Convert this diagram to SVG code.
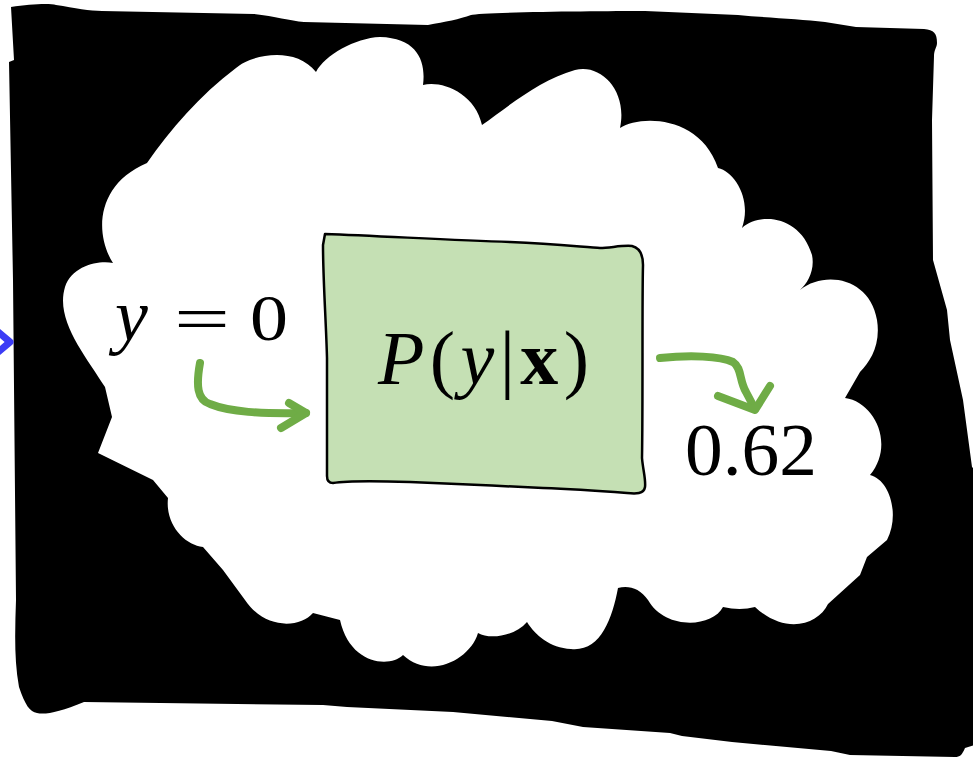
<svg xmlns="http://www.w3.org/2000/svg" width="973" height="759" viewBox="0 0 973 759">
  <defs>
    <style>
      .ink { fill: #000000; stroke: none; }
      .cloud { fill: #ffffff; stroke: none; }
      .box { fill: #c5e0b4; stroke: #000000; stroke-width: 2.5; stroke-linejoin: round; }
      .math { font-family: "Liberation Serif", "DejaVu Serif", serif; fill: #000000; font-weight: normal; }
      .it { font-style: italic; }
      .bf { font-weight: bold; }
      .green { fill: none; stroke: #6fac46; stroke-width: 8; stroke-linecap: round; stroke-linejoin: round; }
      .blue { fill: none; stroke: #3c3cf5; stroke-width: 7; stroke-linecap: butt; stroke-linejoin: round; }
    </style>
  </defs>
  <rect x="0" y="0" width="973" height="759" fill="#ffffff"/>

  <!-- black scribbled background -->
  <path class="ink" d="M11,7 C30,4 50,3 56,5 C75,8 90,11 102,11 L254,14 C275,16 290,21 304,22 L428,25 C445,22 460,19 471,15 C480,12 600,11 645,11 L738,15 C770,18 800,19 825,22 L856,27 L924,29 C934,30 937,33 937,43 C937,47 934,50 934,56 L932,120 L933,260 L947,310 L950,340 L963,400 L972,467 L975,470 L975,745 L965,748 C962,755 960,757 955,757 L850,755 L831,751 L732,742 L682,736 L670,733 L583,727 L552,721 L453,712 L347,707 L323,705 L84,702 C60,712 45,715 37,713 C30,712 25,705 19,687 C14,660 15,630 16,600 L13,280 L9,62 L14,60 Z"/>

  <!-- white cloud -->
  <path class="cloud" d="M147,163 C170,130 200,95 236,68 C250,55 295,45 316,72 C325,55 355,38 380,37 C418,38 426,62 423,85 C440,80 475,92 482,125 C510,105 540,80 575,70 C600,63 628,90 620,128 C640,115 700,115 718,168 C735,172 752,200 742,228 C760,212 800,215 812,255 C815,270 808,283 800,290 C825,270 870,278 877,320 C881,345 870,362 860,372 L845,398 C875,402 895,445 870,475 C890,480 900,515 887,540 L867,557 L860,575 L828,604 C818,625 785,635 755,607 Q740,611 723,607 C712,628 665,630 648,600 C640,588 628,585 618,588 C612,620 600,652 571,649 C550,648 535,635 527,622 C515,636 490,640 478,633 C470,660 430,680 403,655 C390,668 350,665 340,620 L313,613 C300,628 265,630 245,600 L223,570 L203,547 C185,545 165,525 168,498 L153,480 L98,453 L112,417 L105,387 C85,355 55,320 65,287 C72,265 100,260 113,263 C95,235 95,185 147,163 Z"/>

  <g id="connectors">
    <path class="blue" d="M-3,331 L10,342 L-3,353"/>
    <path class="green" d="M200,363 C196,385 197,400 210,404 C230,412 260,414 306,413"/>
    <path class="green" d="M289,403 L306,413 L281,428"/>
    <path class="green" d="M660,358 C690,355 720,356 733,362 C742,368 739,380 746,392 L755,409"/>
    <path class="green" d="M718,396 L755,410 L770,386"/>
  </g>

  <g id="node-y">
    <text class="math it" x="115" y="340" font-size="74">y</text>
    <text class="math" x="174" y="340" font-size="64" textLength="56" lengthAdjust="spacingAndGlyphs">=</text>
    <text class="math" x="250" y="340" font-size="66" textLength="38" lengthAdjust="spacingAndGlyphs">0</text>
  </g>

  <g id="node-p">
    <path class="box" d="M325,234 C380,236 450,240 510,242 C560,244 590,248 600,248 C610,248 622,245 632,246 C640,248 643,255 643,265 C642,300 643,400 642,458 C643,470 646,480 645,487 C644,494 636,494 627,493 C600,491 570,489 543,488 C500,486 440,483 410,482 C380,481 345,481 333,483 C328,483 327,480 327,476 L327,358 C326,320 323,280 323,245 Z"/>
    <text class="math" x="378" y="384" font-size="76" textLength="211" lengthAdjust="spacing"><tspan class="it">P</tspan>(<tspan class="it">y</tspan>|<tspan class="bf">x</tspan>)</text>
  </g>

  <g id="node-out">
    <text class="math" x="685" y="475" font-size="74" textLength="132" lengthAdjust="spacingAndGlyphs">0.62</text>
  </g>
</svg>
